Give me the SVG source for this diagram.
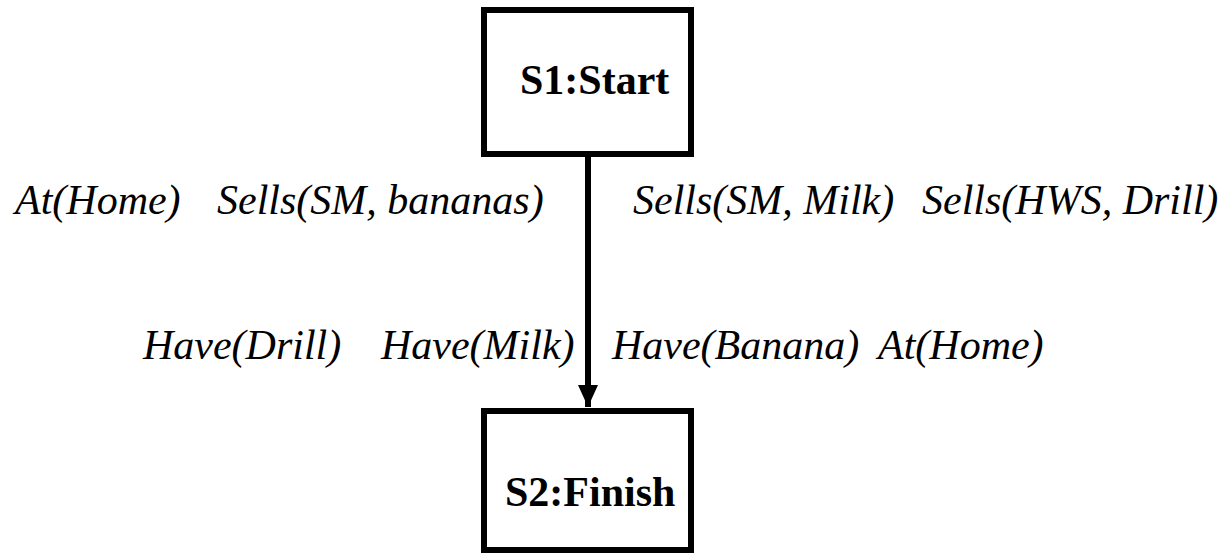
<svg xmlns="http://www.w3.org/2000/svg" width="1223" height="553" viewBox="0 0 1223 553">
  <style>
    .box { fill: #ffffff; stroke: #000000; stroke-width: 6; }
    .title { font-family: "Liberation Serif", "Times New Roman", serif; font-weight: bold; font-size: 42px; fill: #000000; }
    .cond { font-family: "Liberation Serif", "Times New Roman", serif; font-style: italic; font-size: 42px; fill: #000000; }
    .edge { stroke: #000000; stroke-width: 6; fill: none; }
  </style>
  <defs>
    <marker id="arrowhead" markerUnits="userSpaceOnUse" markerWidth="22" markerHeight="20" refX="22" refY="10" orient="auto">
      <path d="M0,0 L22,10 L0,20 Z" fill="#000000"/>
    </marker>
  </defs>
  <rect width="1223" height="553" fill="#ffffff"/>

  <!-- plan steps -->
  <g id="s1-start">
    <rect class="box" x="484" y="10" width="207" height="144"/>
    <text class="title" x="520" y="94">S1:Start</text>
  </g>
  <g id="s2-finish">
    <rect class="box" x="484" y="411" width="207" height="139"/>
    <text class="title" x="505" y="506">S2:Finish</text>
  </g>

  <!-- ordering link -->
  <g id="connectors">
    <line class="edge" x1="588" y1="157" x2="588" y2="407" marker-end="url(#arrowhead)"/>
  </g>

  <!-- effects of the start step -->
  <g id="start-effects">
    <text class="cond" x="15" y="214">At(Home)</text>
    <text class="cond" x="217" y="214">Sells(SM, bananas)</text>
    <text class="cond" x="633" y="214">Sells(SM, Milk)</text>
    <text class="cond" x="922" y="214">Sells(HWS, Drill)</text>
  </g>

  <!-- preconditions of the finish step -->
  <g id="finish-preconditions">
    <text class="cond" x="143" y="359">Have(Drill)</text>
    <text class="cond" x="381" y="359">Have(Milk)</text>
    <text class="cond" x="612" y="359">Have(Banana)</text>
    <text class="cond" x="878" y="359">At(Home)</text>
  </g>
</svg>
